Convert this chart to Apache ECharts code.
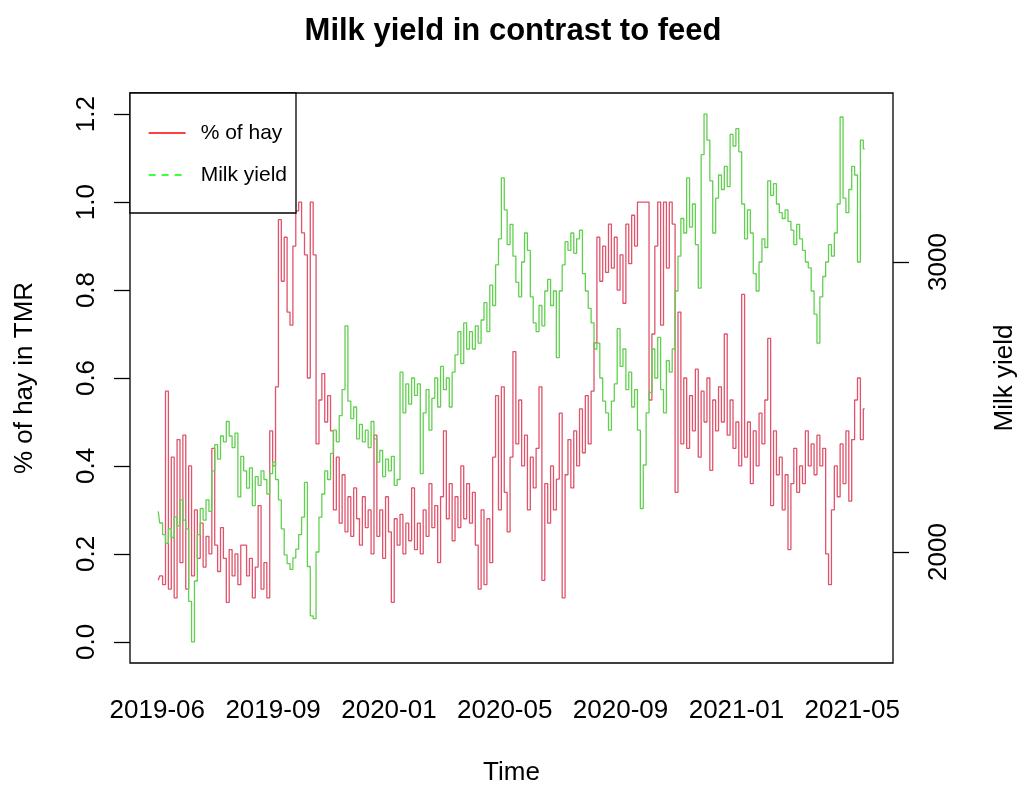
<!DOCTYPE html>
<html>
<head>
<meta charset="utf-8">
<title>Milk yield in contrast to feed</title>
<script src="https://cdn.jsdelivr.net/npm/echarts@6/dist/echarts.min.js"></script>
<style>
  html, body { margin: 0; padding: 0; background: #fff; }
  #chart { width: 1026px; height: 791px; }
</style>
</head>
<body>
<div id="chart"></div>
<script>
// Observation series: one value every 3 days starting from startDate
const startDate = '2019-06-02';
const stepDays = 3;

// Share of hay in the total mixed ration (left axis)
const hayShare = [
  0.14,0.15,0.13,0.57,0.12,0.42,0.10,0.46,0.18,0.47,
  0.12,0.40,0.15,0.30,0.19,0.27,0.17,0.24,0.20,0.44,
  0.22,0.16,0.26,0.19,0.09,0.21,0.15,0.20,0.13,0.22,
  0.22,0.15,0.19,0.10,0.17,0.31,0.12,0.18,0.10,0.48,
  0.40,0.58,0.96,0.82,0.92,0.75,0.72,0.90,0.98,1.00,
  0.93,0.88,0.60,1.00,0.88,0.45,0.55,0.61,0.50,0.56,
  0.48,0.30,0.42,0.27,0.38,0.25,0.33,0.24,0.35,0.28,
  0.22,0.33,0.26,0.30,0.20,0.47,0.24,0.30,0.19,0.33,
  0.25,0.09,0.28,0.22,0.29,0.20,0.27,0.23,0.35,0.21,
  0.27,0.20,0.30,0.24,0.36,0.26,0.31,0.18,0.33,0.48,
  0.28,0.36,0.23,0.33,0.26,0.40,0.28,0.36,0.27,0.34,
  0.22,0.12,0.30,0.13,0.28,0.18,0.42,0.56,0.30,0.58,
  0.34,0.25,0.42,0.66,0.45,0.55,0.40,0.47,0.30,0.42,
  0.35,0.44,0.58,0.14,0.36,0.27,0.40,0.30,0.37,0.52,
  0.10,0.38,0.46,0.35,0.48,0.40,0.53,0.43,0.56,0.45,
  0.57,0.68,0.92,0.82,0.90,0.84,0.95,0.85,0.92,0.80,
  0.88,0.77,0.95,0.86,0.97,0.90,1.00,1.00,1.00,1.00,
  0.55,0.70,0.90,1.00,0.72,1.00,0.85,1.00,0.95,0.34,
  0.75,0.45,0.60,0.44,0.56,0.48,0.62,0.42,0.57,0.50,
  0.60,0.39,0.55,0.48,0.58,0.50,0.70,0.47,0.55,0.44,
  0.50,0.40,0.79,0.42,0.50,0.36,0.48,0.40,0.52,0.45,
  0.55,0.69,0.31,0.48,0.38,0.42,0.30,0.38,0.21,0.36,
  0.44,0.34,0.40,0.36,0.48,0.40,0.45,0.38,0.47,0.40,
  0.44,0.20,0.13,0.30,0.40,0.33,0.45,0.36,0.48,0.32,
  0.46,0.55,0.60,0.46,0.53
];

// Herd milk yield (right axis)
const milkYield = [
  2140,2100,2060,2030,2080,2050,2120,2090,2180,2110,
  2080,1830,1690,1900,2060,2150,2110,2180,2140,2280,
  2370,2320,2400,2380,2450,2400,2360,2410,2190,2330,
  2280,2220,2290,2160,2260,2230,2280,2250,2200,2270,
  2310,2250,2180,2080,1990,1960,1940,1980,2010,2060,
  2120,2240,1950,1780,1770,2000,2120,2200,2280,2250,
  2340,2420,2380,2470,2560,2780,2520,2460,2500,2390,
  2440,2380,2420,2360,2450,2390,2310,2350,2260,2320,
  2280,2330,2230,2250,2620,2480,2580,2510,2600,2540,
  2580,2270,2480,2560,2420,2530,2600,2500,2640,2560,
  2600,2500,2620,2680,2760,2650,2790,2700,2760,2700,
  2780,2720,2800,2860,2760,2920,2850,2990,3080,3290,
  3180,3060,3130,3020,2930,2880,3000,3100,3040,2880,
  2790,2760,2850,2780,2900,2940,2850,2900,2670,2900,
  2990,3070,3040,3100,3030,3080,3110,2960,2900,2840,
  2790,2700,2720,2600,2520,2480,2420,2520,2580,2770,
  2640,2700,2560,2620,2500,2560,2420,2150,2300,2480,
  2550,2700,2600,2740,2560,2480,2660,2620,2700,2900,
  3020,3150,3100,3290,3120,3200,3060,2910,3370,3510,
  3420,3280,3100,3220,3300,3250,3330,3260,3440,3400,
  3460,3380,3200,3080,3180,3100,2960,2900,3000,3080,
  3050,3280,3230,3270,3200,3170,3150,3180,3140,3110,
  3060,3130,3080,3040,3000,2980,2900,2820,2720,2880,
  2950,3000,3060,3020,3100,3200,3500,3220,3170,3250,
  3330,3300,3000,3420,3390
];

// Axis ticks
const timeTicks = ['2019-06-01', '2019-09-29', '2020-01-27', '2020-05-26', '2020-09-23', '2021-01-21', '2021-05-21'];
const hayTicks = [0, 0.2, 0.4, 0.6, 0.8, 1.0, 1.2];
const milkTicks = [2000, 3000];

const DAY = 86400000;
const FONT = 'Liberation Sans, Arial, Helvetica, sans-serif';
const t0 = Date.parse(startDate + 'T00:00:00Z');
const times = hayShare.map((_, i) => t0 + i * stepDays * DAY);

// Axis ranges padded by 4% on both sides
function padRange(lo, hi) {
  const d = (hi - lo) * 0.04;
  return [lo - d, hi + d];
}
const [xMin, xMax] = padRange(times[0], times[times.length - 1]);
const [hMin, hMax] = padRange(hayTicks[0], hayTicks[hayTicks.length - 1]);
const [mMin, mMax] = padRange(Math.min(...milkYield), Math.max(...milkYield));
const tickTimes = timeTicks.map(s => Date.parse(s + 'T00:00:00Z'));

function fmtMonth(v) {
  const d = new Date(v);
  return d.getUTCFullYear() + '-' + String(d.getUTCMonth() + 1).padStart(2, '0');
}

const labelStyle = { fontFamily: FONT, fontSize: 26, color: '#000' };
const noMarker = { color: 'rgba(0,0,0,0)', borderWidth: 0, borderColor: 'rgba(0,0,0,0)' };

const chart = echarts.init(document.getElementById('chart'), null, { renderer: 'canvas' });
chart.setOption({
  animation: false,
  backgroundColor: '#fff',
  title: {
    text: 'Milk yield in contrast to feed',
    left: 'center',
    top: 11,
    textStyle: { fontFamily: FONT, fontSize: 31, fontWeight: 'bold', color: '#000' }
  },
  legend: {
    orient: 'vertical',
    left: 130,
    top: 93,
    padding: [28, 9, 26, 18],
    itemWidth: 37,
    itemHeight: 24,
    itemGap: 18,
    backgroundColor: '#fff',
    borderColor: '#000',
    borderWidth: 1.3,
    borderRadius: 0,
    selectedMode: false,
    textStyle: { fontFamily: FONT, fontSize: 21, color: '#000', lineHeight: 24, padding: [0, 0, 0, 10] },
    data: [
      { name: '% of hay', lineStyle: { color: '#FF0000', width: 1.3, type: 'solid' }, itemStyle: noMarker },
      { name: 'Milk yield', lineStyle: { color: '#00FF00', width: 1.3, type: [7, 6] }, itemStyle: noMarker }
    ]
  },
  grid: {
    left: 130, right: 126, top: 93, bottom: 119,
    show: true, borderColor: '#000', borderWidth: 1.3, backgroundColor: 'transparent'
  },
  xAxis: {
    type: 'value',
    min: xMin,
    max: xMax,
    axisLine: { show: false },
    axisTick: { show: false },
    splitLine: { show: false },
    axisLabel: Object.assign({ customValues: tickTimes, formatter: fmtMonth, margin: 35, hideOverlap: false }, labelStyle),
    name: 'Time',
    nameLocation: 'middle',
    nameGap: 97,
    nameTextStyle: labelStyle
  },
  yAxis: [
    {
      type: 'value',
      position: 'left',
      min: hMin,
      max: hMax,
      splitLine: { show: false },
      axisLine: { show: false },
      axisTick: { show: true, length: 16, customValues: hayTicks, lineStyle: { color: '#000', width: 1.3 } },
      axisLabel: Object.assign({ customValues: hayTicks, formatter: v => v.toFixed(1), rotate: 90, margin: 30 }, labelStyle),
      name: '% of hay in TMR',
      nameLocation: 'middle',
      nameRotate: 90,
      nameGap: 92,
      nameTextStyle: labelStyle
    },
    {
      type: 'value',
      position: 'right',
      min: mMin,
      max: mMax,
      splitLine: { show: false },
      axisLine: { show: false },
      axisTick: { show: true, length: 16, customValues: milkTicks, lineStyle: { color: '#000', width: 1.3 } },
      axisLabel: Object.assign({ customValues: milkTicks, formatter: v => String(v), rotate: 90, margin: 33 }, labelStyle),
      name: 'Milk yield',
      nameLocation: 'middle',
      nameRotate: 90,
      nameGap: 99,
      nameTextStyle: labelStyle
    }
  ],
  series: [
    {
      name: '% of hay',
      type: 'line',
      yAxisIndex: 0,
      step: 'middle',
      symbol: 'none',
      data: times.map((t, i) => [t, hayShare[i]]),
      lineStyle: { color: '#DF536B', width: 1.3 },
      itemStyle: { color: '#DF536B' }
    },
    {
      name: 'Milk yield',
      type: 'line',
      yAxisIndex: 1,
      step: 'middle',
      symbol: 'none',
      data: times.map((t, i) => [t, milkYield[i]]),
      lineStyle: { color: '#61D04F', width: 1.3 },
      itemStyle: { color: '#61D04F' }
    }
  ]
});
</script>
</body>
</html>
